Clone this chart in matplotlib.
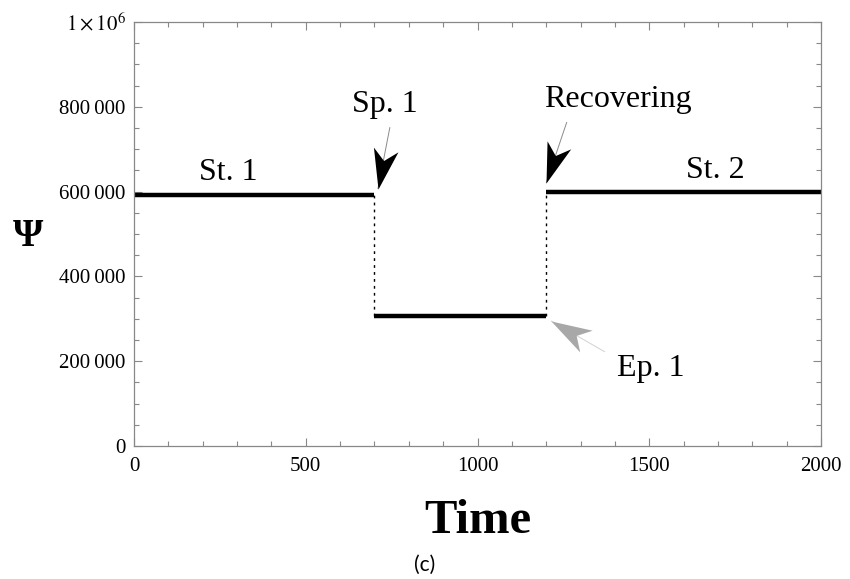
import numpy as np
import matplotlib; matplotlib.use("Agg")
import matplotlib.pyplot as plt
from matplotlib.ticker import MultipleLocator, FixedLocator, FixedFormatter
from matplotlib.markers import MarkerStyle
from matplotlib.path import Path
from matplotlib.transforms import Affine2D

plt.rcParams["font.family"] = ["Liberation Serif", "DejaVu Serif"]
plt.rcParams["mathtext.fontset"] = "stix"

# piecewise-constant state value over time
t_breaks = [0, 700, 1200, 2000]
psi_levels = [592000, 307000, 600000]

y_ticks = [0, 200000, 400000, 600000, 800000, 1000000]
y_ticklabels = ["0", "200\u2009000", "400\u2009000", "600\u2009000", "800\u2009000", r"$1\times10^{6}$"]
x_ticks = [0, 500, 1000, 1500, 2000]

# (label, text x, text baseline y, arrow tail, arrow tip)
labels = [("St. 1", 274, 627000, None, None),
          ("Sp. 1", 731, 788000, (745, 752000), (710, 606000)),
          ("Recovering", 1409, 800000, (1260, 764000), (1200, 620000)),
          ("St. 2", 1691, 632000, None, None),
          ("Ep. 1", 1505, 165000, (1371, 222000), (1214, 295000))]

# notched dart head, tip at the origin pointing along +x
dart = Path([(0, 0), (-1, 0.31), (-0.72, 0), (-1, -0.31), (0, 0)],
            [Path.MOVETO, Path.LINETO, Path.LINETO, Path.LINETO, Path.CLOSEPOLY])

fig = plt.figure(figsize=(8.5, 5.79), dpi=100)
ax = fig.add_axes([134/850, 1-446/579, 687/850, 424/579])

ax.hlines(psi_levels, t_breaks[:-1], t_breaks[1:], color="black", lw=3.2, capstyle="butt")
ax.vlines(t_breaks[1:3], [psi_levels[1]]*2, [psi_levels[0], psi_levels[2]],
          color="black", lw=1.0, linestyles=(0, (2, 3)))

ax.set_xlim(0, 2000)
ax.set_ylim(0, 1000000)
ax.xaxis.set_major_locator(FixedLocator(x_ticks))
ax.xaxis.set_minor_locator(MultipleLocator(100))
ax.yaxis.set_major_locator(FixedLocator(y_ticks))
ax.yaxis.set_major_formatter(FixedFormatter(y_ticklabels))
ax.yaxis.set_minor_locator(MultipleLocator(50000))
ax.tick_params(which="both", direction="in", top=True, right=True, color="#888888",
               labelsize=15, width=0.8)
ax.tick_params(which="major", length=6)
ax.tick_params(which="minor", length=3.5)
ax.tick_params(axis="x", pad=8)
ax.tick_params(axis="y", pad=6)
for s in ax.spines.values():
    s.set_color("#888888")
    s.set_linewidth(0.9)

for name, tx, ty, tail, tip in labels:
    ax.text(tx, ty, name, fontsize=23, ha="center", va="baseline")
    if tip is None:
        continue
    grey = name.startswith("Ep")
    ax.plot([tail[0], tip[0]], [tail[1], tip[1]], color="#d2d2d2" if grey else "#8a8a8a",
            lw=0.7, solid_capstyle="butt")
    (x0, y0), (x1, y1) = ax.transData.transform([tail, tip])
    ang = np.degrees(np.arctan2(y1 - y0, x1 - x0))
    head = MarkerStyle(dart, transform=Affine2D().rotate_deg(ang))
    ax.plot(tip[0], tip[1], marker=head, ms=58, mew=0, ls="none",
            color="#a8a8a8" if grey else "black", zorder=4)

fig.text(28/850, 1-237/579, "\u03a8", fontsize=28, fontweight="bold", ha="center", va="center")
fig.text(478/850, 1-521/579, "Time", fontsize=35, fontweight="bold", ha="center", va="center")
fig.text(425/850, 1-565/579, "(c)", fontsize=15, family="Lato", ha="center", va="center")

fig.savefig("out.png", dpi=100)
